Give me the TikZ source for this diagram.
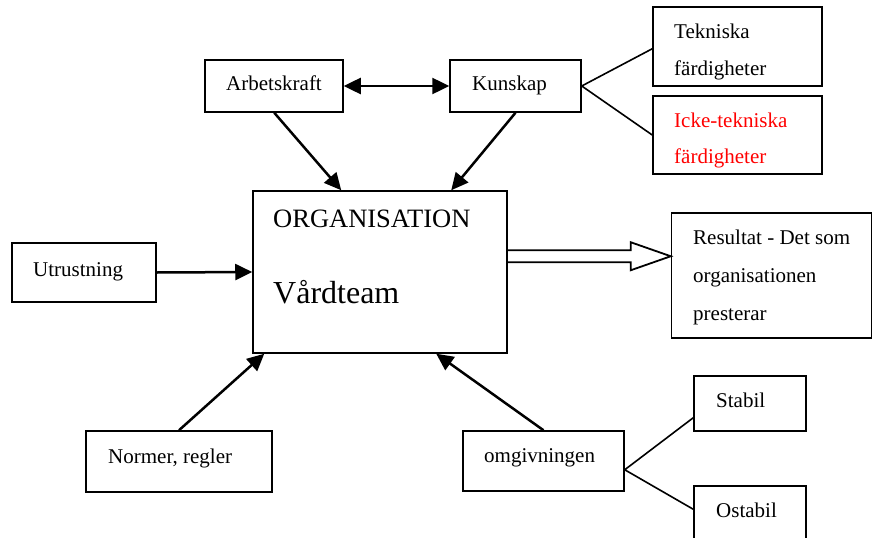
\documentclass[tikz,border=0pt]{standalone}
\usepackage{fontspec}
\setmainfont{Liberation Serif}
\usetikzlibrary{arrows.meta,calc}
\tikzset{
  box/.style={draw, line width=1.5pt, rectangle, inner sep=0pt},
  lbl/.style={anchor=base west, inner sep=0pt, font=\fontsize{21}{25}\selectfont},
  arr/.style={line width=2.5pt, -{Triangle[length=17pt,width=16pt]}},
  darr/.style={line width=2.5pt, {Triangle[length=17pt,width=16pt]}-{Triangle[length=17pt,width=16pt]}},
  thin/.style={line width=1.6pt}
}
\begin{document}
\begin{tikzpicture}[x=1pt,y=-1pt]
\useasboundingbox (0,0) rectangle (873,538);
\clip (0,0) rectangle (873,538);
\fill[white] (0,0) rectangle (873,538);
% boxes
\node[box, minimum width=138pt, minimum height=52pt] (arb) at (274,86) {};
\node[box, minimum width=131pt, minimum height=52pt] (kun) at (515.5,86) {};
\node[box, minimum width=169pt, minimum height=79pt] (tek) at (737.5,46.5) {};
\node[box, minimum width=169pt, minimum height=78pt] (icke) at (737.5,135) {};
\node[box, minimum width=254pt, minimum height=162pt] (org) at (380,272) {};
\node[box, minimum width=144pt, minimum height=59pt] (utr) at (84,272.5) {};
\node[box, minimum width=200pt, minimum height=125pt] (res) at (771.5,275.5) {};
\node[box, minimum width=186pt, minimum height=61pt] (nor) at (179,461.5) {};
\node[box, minimum width=161pt, minimum height=60pt] (omg) at (543.5,461) {};
\node[box, minimum width=112pt, minimum height=55pt] (sta) at (750,403.5) {};
\node[box, minimum width=112pt, minimum height=74pt] (ost) at (750,523) {};
% texts
\node[lbl] (tarb) at (226,90) {Arbetskraft};
\node[lbl] (tkun) at (472,90) {Kunskap};
\node[lbl] (ttek1) at (674,38) {Tekniska};
\node[lbl] (ttek2) at (674,75) {färdigheter};
\node[lbl, text=red] (ticke1) at (674,127) {Icke-tekniska};
\node[lbl, text=red] (ticke2) at (674,163) {färdigheter};
\node[lbl, font=\fontsize{26.5}{30}\selectfont] (torg1) at (273,227) {ORGANISATION};
\node[lbl, font=\fontsize{32}{36}\selectfont] (torg2) at (273,303) {Vårdteam};
\node[lbl] (tutr) at (33,276) {Utrustning};
\node[lbl] (tres1) at (693,244) {Resultat - Det som};
\node[lbl] (tres2) at (693,282) {organisationen};
\node[lbl] (tres3) at (693,320) {presterar};
\node[lbl] (tnor) at (108,463) {Normer, regler};
\node[lbl] (tomg) at (484,462) {omgivningen};
\node[lbl] (tsta) at (716,407) {Stabil};
\node[lbl] (tost) at (716,517) {Ostabil};
% connectors
\draw[darr] (arb.east) -- (kun.west);
\draw[arr] ($(arb.south west)+(70,0)$) -- ($(org.north west)+(89,0)$);
\draw[arr] (kun.south) -- ($(org.north west)+(199,0)$);
\draw[arr] (utr.east) -- (org.west);
\draw[arr] (nor.north) -- ($(org.south west)+(12,0)$);
\draw[arr] (omg.north) -- ($(org.south west)+(184,0)$);
\draw[thin] ($(tek.south west)+(0,-38)$) -- (kun.east) -- (icke.west);
\coordinate (oapex) at ($(omg.south east)+(0,-22)$);
\draw[thin] ($(sta.south west)+(0,-14)$) -- (oapex) -- ($(ost.north west)+(0,24)$);
% hollow result arrow
\coordinate (ha) at ($(org.north east)+(0,60)$);
\coordinate (tip) at ($(res.north west)+(0,44)$);
\draw[line width=1.8pt, line join=miter]
  (ha) -- ++(123,0) -- ++(0,-8) -- (tip) -- ($(ha)+(123,20)$) -- ++(0,-8) -- ($(ha)+(0,12)$);
\end{tikzpicture}
\end{document}
